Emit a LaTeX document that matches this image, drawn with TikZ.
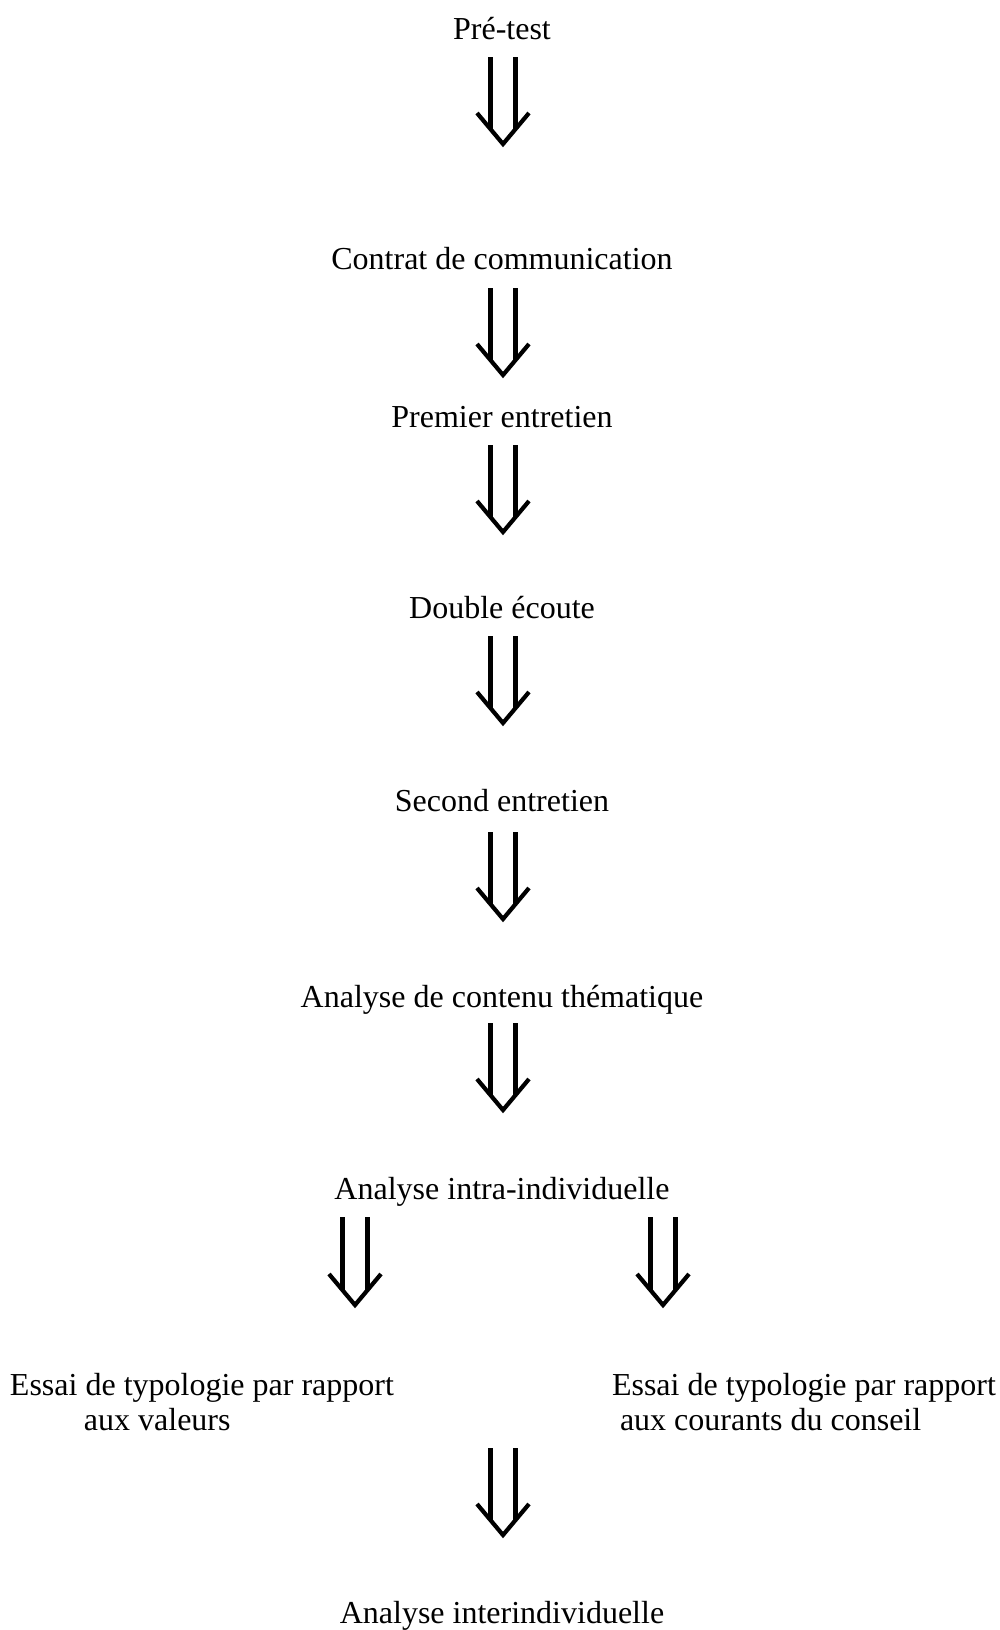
\documentclass[tikz,border=0pt]{standalone}
\usepackage{fontspec}
\setmainfont{Liberation Serif}
\usetikzlibrary{calc}
\tikzset{
  lbl/.style={anchor=base, inner sep=0pt, outer sep=0pt},
  lblw/.style={anchor=base west, inner sep=0pt, outer sep=0pt},
  arrowline/.style={line width=2.1pt, line join=miter},
}
\newcommand\dbarrow[2]{%
  \draw[arrowline] ($(#1)+(-12.5,0)$) -- ($(#2)+(-12.5,-15)$);
  \draw[arrowline] ($(#1)+(12.5,0)$) -- ($(#2)+(12.5,-15)$);
  \draw[arrowline] ($(#2)+(-26,-31)$) -- (#2) -- ($(#2)+(26,-31)$);
}
\begin{document}
\begin{tikzpicture}[x=0.5pt, y=-0.5pt, font=\fontsize{16}{17.5}\selectfont]
\useasboundingbox (0,0) rectangle (1000,1630);

\node[lbl] (t1) at (502,39) {Pré-test};
\node[lbl] (t2) at (502,269) {Contrat de communication};
\node[lbl] (t3) at (502,427) {Premier entretien};
\node[lbl] (t4) at (502,618) {Double écoute};
\node[lbl] (t5) at (502,811) {Second entretien};
\node[lbl] (t6) at (502,1007) {Analyse de contenu thématique};
\node[lbl] (t7) at (502,1199) {Analyse intra-individuelle};
\node[lblw] (t8) at (10,1395) {\begin{tabular}[t]{@{}l@{}}Essai de typologie par rapport\\\hspace*{37pt}aux valeurs\end{tabular}};
\node[lblw] (t9) at (612,1395) {\begin{tabular}[t]{@{}l@{}}Essai de typologie par rapport\\\hspace*{4pt}aux courants du conseil\end{tabular}};
\node[lbl] (t10) at (502,1623) {Analyse interindividuelle};

\coordinate (a1t) at (503,57);   \coordinate (a1h) at (503,144);
\coordinate (a2t) at (503,288);  \coordinate (a2h) at (503,375);
\coordinate (a3t) at (503,445);  \coordinate (a3h) at (503,532);
\coordinate (a4t) at (503,636);  \coordinate (a4h) at (503,723);
\coordinate (a5t) at (503,832);  \coordinate (a5h) at (503,919);
\coordinate (a6t) at (503,1023); \coordinate (a6h) at (503,1110);
\coordinate (aLt) at (355,1217); \coordinate (aLh) at (355,1305);
\coordinate (aRt) at (663,1217); \coordinate (aRh) at (663,1305);
\coordinate (a9t) at (503,1448); \coordinate (a9h) at (503,1535);

\dbarrow{a1t}{a1h}
\dbarrow{a2t}{a2h}
\dbarrow{a3t}{a3h}
\dbarrow{a4t}{a4h}
\dbarrow{a5t}{a5h}
\dbarrow{a6t}{a6h}
\dbarrow{aLt}{aLh}
\dbarrow{aRt}{aRh}
\dbarrow{a9t}{a9h}
\end{tikzpicture}
\end{document}
